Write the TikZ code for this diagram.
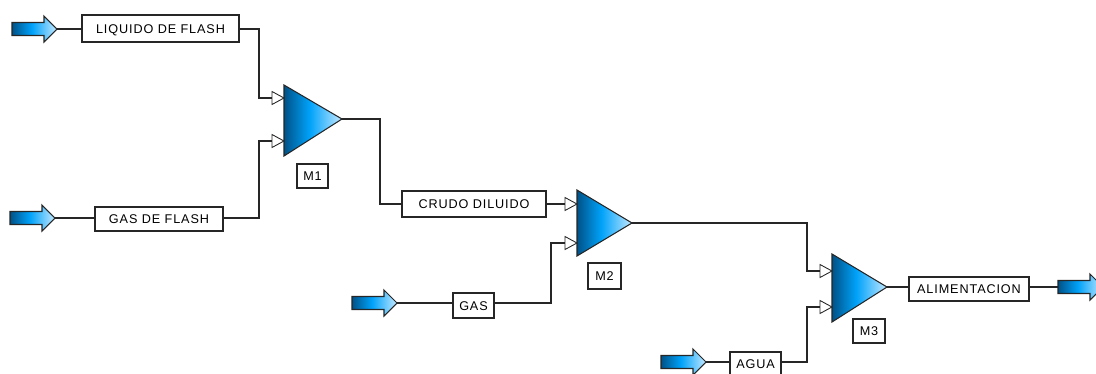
\documentclass[tikz,border=0pt]{standalone}
\usepackage{fontspec}
\setmainfont[LetterSpace=7]{Liberation Sans}
\usetikzlibrary{positioning}
\definecolor{deepblue}{RGB}{0,82,135}
\definecolor{midblue}{RGB}{0,162,250}
\definecolor{paleblue}{RGB}{195,232,255}
\pgfdeclarehorizontalshading{bluefade}{100bp}{color(0bp)=(deepblue); color(25bp)=(deepblue); color(47bp)=(midblue); color(75bp)=(paleblue); color(100bp)=(paleblue)}
\tikzset{
  wire/.style={line width=0.6pt, black!85},
  tag/.style={draw=black!85, line width=0.6pt, fill=white, inner sep=0pt, text height=5.2pt, text depth=0pt, font=\fontsize{7.2pt}{8pt}\selectfont},
  bluefill/.style={draw=black!85, line width=0.6pt, shading=bluefade},
  port/.style={draw=black!85, line width=0.5pt, fill=white},
}
\begin{document}
\begin{tikzpicture}[x=0.02cm, y=-0.02cm]
\clip (0,0) rectangle (1096,373);
% =====================
% FLECHAS
% =====================
\foreach \name/\x/\y in {feedA/12/29, feedB/10/218, feedC/352/303, feedD/661/362, prod/1058/287} {
  \path[bluefill] (\x,\y-6.5) -- ++(32,0) -- ++(0,-6.5) -- ++(13,13) -- ++(-13,13) -- ++(0,-6.5) -- ++(-32,0) -- cycle;
  \coordinate (\name tip) at (\x+45,\y);
  \coordinate (\name tail) at (\x,\y);
}

% =====================
% MEZCLADORES
% =====================
\foreach \name/\x/\ytop/\ybot/\xapex/\yapex/\yp/\yq in {mixA/284/85/156/342/119/98/141, mixB/577/190/256/632/223/204/243, mixC/832/254/322/887/287/271/307} {
  \path[bluefill] (\x,\ytop) -- (\xapex,\yapex) -- (\x,\ybot) -- cycle;
  \coordinate (\name out) at (\xapex,\yapex);
  \foreach \pname/\py in {a/\yp, b/\yq} {
    \draw[port] (\x-12,\py-6.5) -- (\x,\py) -- (\x-12,\py+6.5) -- cycle;
    \coordinate (\name\pname) at (\x-12,\py);
  }
}

% =====================
% ETIQUETAS
% =====================
\node[tag, minimum width=3.14cm, minimum height=0.54cm] (liquido) at (160.5,28.5) {LIQUIDO DE FLASH};
\node[tag, minimum width=2.56cm, minimum height=0.48cm] (gasflash) at (159,219) {GAS DE FLASH};
\node[tag, minimum width=0.62cm, minimum height=0.48cm] (mA) at (312.5,176) {M1};
\node[tag, minimum width=2.88cm, minimum height=0.52cm] (crudo) at (474,204) {CRUDO DILUIDO};
\node[tag, minimum width=0.82cm, minimum height=0.5cm] (gas) at (473.5,305.5) {GAS};
\node[tag, minimum width=0.66cm, minimum height=0.52cm] (mB) at (604.5,276) {M2};
\node[tag, minimum width=0.64cm, minimum height=0.48cm] (mC) at (869,331) {M3};
\node[tag, minimum width=1.02cm, minimum height=0.46cm] (agua) at (755.5,363.5) {AGUA};
\node[tag, minimum width=2.4cm, minimum height=0.48cm] (alimentacion) at (969,289) {ALIMENTACION};

% =====================
% CONEXIONES
% =====================
\draw[wire] (feedAtip) -- (feedAtip -| liquido.west);
\draw[wire] (feedBtip) -- (feedBtip -| gasflash.west);
\draw[wire] (feedCtip) -- (feedCtip -| gas.west);
\draw[wire] (feedDtip) -- (feedDtip -| agua.west);
\draw[wire] (feedAtip -| liquido.east) -| (259,98) -- (mixAa);
\draw[wire] (feedBtip -| gasflash.east) -| (259,141) -- (mixAb);
\draw[wire] (mixAout) -| (380,204) -- (mixBa -| crudo.west);
\draw[wire] (mixBa -| crudo.east) -- (mixBa);
\draw[wire] (feedCtip -| gas.east) -| (551,243) -- (mixBb);
\draw[wire] (mixBout) -| (807,271) -- (mixCa);
\draw[wire] (feedDtip -| agua.east) -| (807,307) -- (mixCb);
\draw[wire] (mixCout) -- (mixCout -| alimentacion.west);
\draw[wire] (mixCout -| alimentacion.east) -- (prodtail);
\end{tikzpicture}
\end{document}
